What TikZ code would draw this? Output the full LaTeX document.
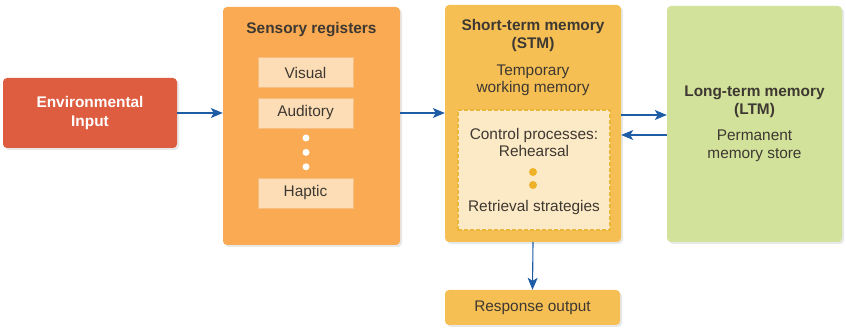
\documentclass[tikz,border=0pt]{standalone}
\usepackage{fontspec}
\setmainfont{Liberation Sans}
\usetikzlibrary{positioning,arrows.meta,shadows}

\definecolor{envred}{RGB}{222,93,65}
\definecolor{sensorange}{RGB}{249,170,82}
\definecolor{senslight}{RGB}{252,221,182}
\definecolor{sensline}{RGB}{246,190,130}
\definecolor{stmyellow}{RGB}{245,191,84}
\definecolor{stmlight}{RGB}{252,234,198}
\definecolor{stmline}{RGB}{236,182,56}
\definecolor{stmdot}{RGB}{238,178,40}
\definecolor{ltmgreen}{RGB}{210,226,154}
\definecolor{arrowblue}{RGB}{31,92,166}
\definecolor{inktext}{RGB}{62,56,50}

\begin{document}
\begin{tikzpicture}[
    x=1pt, y=-1pt,
    every node/.style={align=center, text=inktext,
        font=\fontsize{15.4}{17.5}\selectfont},
    box/.style={
        rounded corners=4pt,
        drop shadow={opacity=0.18, shadow xshift=2pt, shadow yshift=-2pt}
    },
    regbox/.style={
        draw=sensline,
        fill=senslight,
        minimum width=95pt,
        minimum height=30pt
    },
    title/.style={font=\fontsize{15.4}{18.5}\selectfont\bfseries},
    dot/.style={circle, fill=#1, inner sep=0pt, minimum size=7pt},
    arrow/.style={
        -{Stealth[length=12pt,width=10pt,inset=3pt]},
        draw=arrowblue,
        line width=1.1pt
    }
]
\useasboundingbox (0,0) rectangle (846,328);

% main boxes
\node[box, fill=envred, minimum width=174pt, minimum height=70pt] (env) at (90,113) {};
\node[title, text=white] at (env) {Environmental\\Input};

\node[box, fill=sensorange, minimum width=177pt, minimum height=238pt] (sensory) at (311.5,126) {};
\node[box, fill=stmyellow, minimum width=176pt, minimum height=237pt] (stm) at (533,123.5) {};
\node[box, fill=ltmgreen, minimum width=175pt, minimum height=236pt] (ltm) at (754.5,124) {};
\node[box, fill=stmyellow, minimum width=175pt, minimum height=35pt] (response) at (532.5,307.5) {Response output};

% sensory registers
\node[title] (senstitle) at (311.5,30) {Sensory registers};
\node[regbox] (visual) at (305.5,72.5) {Visual};
\node[regbox, below=10pt of visual] (auditory) {Auditory};
\node[dot=white] (d1) at (306,138) {};
\node[dot=white, below=7pt of d1] (d2) {};
\node[dot=white, below=7pt of d2] (d3) {};
\node[regbox] (haptic) at (305.5,193) {Haptic};

% short-term memory
\node[title] (stmtitle) at (533,35.5) {Short-term memory\\(STM)};
\node (stmtext) at (533,80.5) {Temporary\\working memory};
\node[draw=stmline, fill=stmlight, dashed, dash pattern=on 4pt off 2pt,
      line width=1.6pt, minimum width=152pt, minimum height=120pt] (control) at (534,170) {};
\node (cptext) at (534,142.5) {Control processes:\\Rehearsal};
\node[dot=stmdot, minimum size=8pt] (c1) at (533,172) {};
\node[dot=stmdot, minimum size=8pt] (c2) at (533,185) {};
\node (retrieval) at (534,208) {Retrieval strategies};

% long-term memory
\node[title] (ltmtitle) at (754.5,102) {Long-term memory\\(LTM)};
\node (ltmtext) at (754.5,146) {Permanent\\memory store};

% connectors
\draw[arrow] (env.east) -- (env -| sensory.west);
\draw[arrow] (sensory.east |- env) -- (stm.west |- env);
\draw[arrow] ([yshift=8.5pt]stm.east) -- ([yshift=8.5pt]stm.east -| ltm.west);
\draw[arrow] ([yshift=-11pt]ltm.west) -- ([yshift=-11pt]ltm.west -| stm.east);
\draw[arrow] (stm.south) -- (response.north);

\end{tikzpicture}
\end{document}
